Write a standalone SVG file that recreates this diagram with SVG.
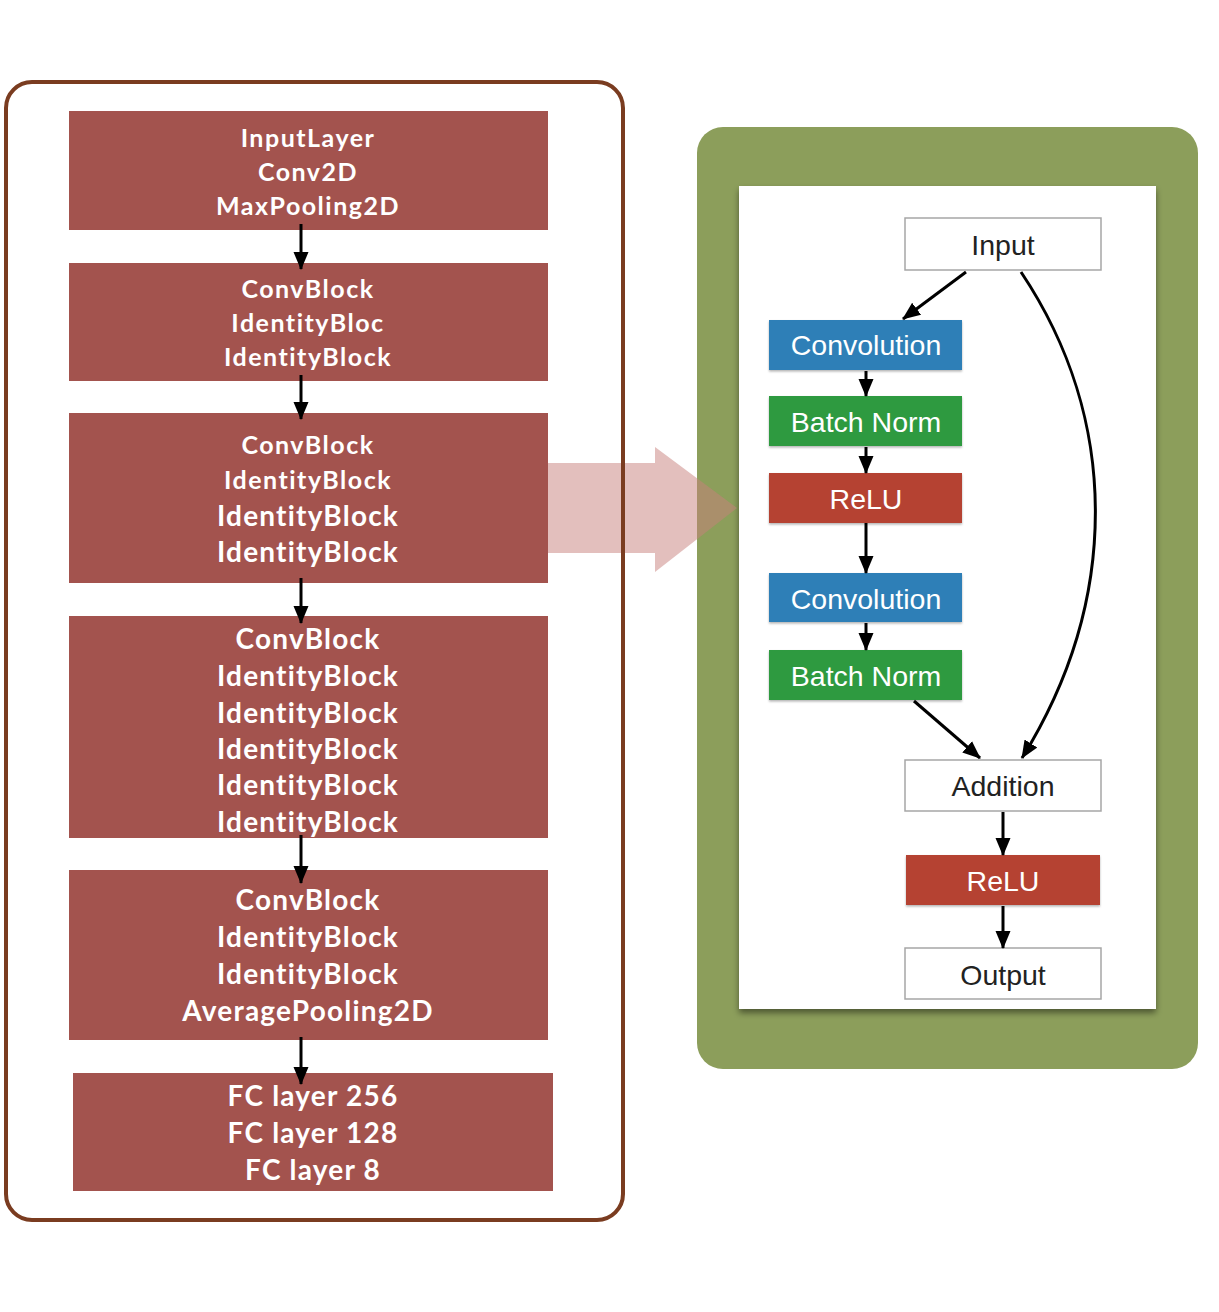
<svg xmlns="http://www.w3.org/2000/svg" width="1219" height="1312" viewBox="0 0 1219 1312">
<defs>
<marker id="ah" markerUnits="userSpaceOnUse" markerWidth="18" markerHeight="18" viewBox="0 0 18 18" refX="17" refY="9" orient="auto">
<path d="M0,1.5 L18,9 L0,16.5 Z" fill="#000"/>
</marker>
<filter id="sh" x="-5%" y="-5%" width="110%" height="110%">
<feDropShadow dx="0" dy="4" stdDeviation="3" flood-color="#000" flood-opacity="0.45"/>
</filter>
<filter id="sh2" x="-5%" y="-10%" width="110%" height="130%">
<feDropShadow dx="0" dy="1.5" stdDeviation="1" flood-color="#000" flood-opacity="0.3"/>
</filter>
</defs>
<style>
.blk{fill:#a3534e}
.lt{font-family:Lato,"Liberation Sans",sans-serif;font-weight:700;fill:#fff;text-anchor:middle}
.s1{font-size:25px;letter-spacing:1.5px}
.s2{font-size:28px;letter-spacing:1.2px}
.rt{font-family:"Liberation Sans",Arial,sans-serif;font-size:28.5px;text-anchor:middle}
.w{fill:#fff}
.d{fill:#222}
.conn{stroke:#000;stroke-width:3;fill:none;marker-end:url(#ah)}
.wn{fill:#fff;stroke:#a6a6a6;stroke-width:1.5}
</style>
<rect width="1219" height="1312" fill="#fff"/>

<!-- right panel -->
<rect id="panel" x="697" y="127" width="501" height="942" rx="26" fill="#8c9e5b"/>
<rect id="inner" x="739" y="186" width="417" height="823" fill="#fff" filter="url(#sh)"/>

<!-- big pink arrow -->
<path id="bigarrow" d="M548,463 L655,463 L655,447 L737,508 L655,572 L655,553 L548,553 Z" fill="#c8807c" fill-opacity="0.5"/>

<!-- left frame -->
<rect id="frame" x="6" y="82" width="617" height="1138" rx="26" fill="none" stroke="#7a3c20" stroke-width="4"/>

<!-- left blocks -->
<g id="b1"><rect class="blk" x="69" y="111" width="479" height="119"/>
<text class="lt s1" x="308" y="147">InputLayer</text>
<text class="lt s1" x="308" y="181">Conv2D</text>
<text class="lt s1" x="308" y="215">MaxPooling2D</text></g>
<g id="b2"><rect class="blk" x="69" y="263" width="479" height="118"/>
<text class="lt s1" x="308" y="298">ConvBlock</text>
<text class="lt s1" x="308" y="332">IdentityBloc</text>
<text class="lt s1" x="308" y="366">IdentityBlock</text></g>
<g id="b3"><rect class="blk" x="69" y="413" width="479" height="170"/>
<text class="lt s1" x="308" y="454">ConvBlock</text>
<text class="lt s1" x="308" y="489">IdentityBlock</text>
<text class="lt s2" x="308" y="526">IdentityBlock</text>
<text class="lt s2" x="308" y="562">IdentityBlock</text></g>
<g id="b4"><rect class="blk" x="69" y="616" width="479" height="222"/>
<text class="lt s2" x="308" y="649">ConvBlock</text>
<text class="lt s2" x="308" y="686">IdentityBlock</text>
<text class="lt s2" x="308" y="723">IdentityBlock</text>
<text class="lt s2" x="308" y="759">IdentityBlock</text>
<text class="lt s2" x="308" y="795">IdentityBlock</text>
<text class="lt s2" x="308" y="832">IdentityBlock</text></g>
<g id="b5"><rect class="blk" x="69" y="870" width="479" height="170"/>
<text class="lt s2" x="308" y="910">ConvBlock</text>
<text class="lt s2" x="308" y="947">IdentityBlock</text>
<text class="lt s2" x="308" y="984">IdentityBlock</text>
<text class="lt s2" x="308" y="1021">AveragePooling2D</text></g>
<g id="b6"><rect class="blk" x="73" y="1073" width="480" height="118"/>
<text class="lt s2" x="313" y="1106">FC layer 256</text>
<text class="lt s2" x="313" y="1143">FC layer 128</text>
<text class="lt s2" x="313" y="1180">FC layer 8</text></g>

<!-- right nodes -->
<g id="input"><rect class="wn" x="905" y="218" width="196" height="52"/>
<text class="rt d" x="1003" y="255">Input</text></g>
<g id="conv1"><rect x="769" y="320" width="193" height="50" fill="#2f7fb7" filter="url(#sh2)"/>
<text class="rt w" x="866" y="355">Convolution</text></g>
<g id="bn1"><rect x="769" y="396" width="193" height="50" fill="#2f9a3f" filter="url(#sh2)"/>
<text class="rt w" x="866" y="432">Batch Norm</text></g>
<g id="relu1"><rect x="769" y="473" width="193" height="50" fill="#b54232" filter="url(#sh2)"/>
<text class="rt w" x="866" y="509">ReLU</text></g>
<g id="conv2"><rect x="769" y="573" width="193" height="49" fill="#2f7fb7" filter="url(#sh2)"/>
<text class="rt w" x="866" y="609">Convolution</text></g>
<g id="bn2"><rect x="769" y="650" width="193" height="50" fill="#2f9a3f" filter="url(#sh2)"/>
<text class="rt w" x="866" y="686">Batch Norm</text></g>
<g id="addition"><rect class="wn" x="905" y="760" width="196" height="51"/>
<text class="rt d" x="1003" y="796">Addition</text></g>
<g id="relu2"><rect x="906" y="855" width="194" height="50" fill="#b54232" filter="url(#sh2)"/>
<text class="rt w" x="1003" y="891">ReLU</text></g>
<g id="output"><rect class="wn" x="905" y="948" width="196" height="51"/>
<text class="rt d" x="1003" y="985">Output</text></g>

<!-- connectors -->
<g id="connectors">
<line class="conn" x1="301" y1="224" x2="301" y2="269"/>
<line class="conn" x1="301" y1="375" x2="301" y2="419"/>
<line class="conn" x1="301" y1="578" x2="301" y2="623"/>
<line class="conn" x1="301" y1="835" x2="301" y2="883"/>
<line class="conn" x1="301" y1="1037" x2="301" y2="1084"/>
<line class="conn" x1="966" y1="272" x2="903" y2="319"/>
<line class="conn" x1="866" y1="371" x2="866" y2="396"/>
<line class="conn" x1="866" y1="447" x2="866" y2="473"/>
<line class="conn" x1="866" y1="523" x2="866" y2="573"/>
<line class="conn" x1="866" y1="623" x2="866" y2="650"/>
<line class="conn" x1="914" y1="701" x2="980" y2="758"/>
<path class="conn" d="M1021,272 C1120,420 1120,600 1022,758"/>
<line class="conn" x1="1003" y1="812" x2="1003" y2="855"/>
<line class="conn" x1="1003" y1="906" x2="1003" y2="948"/>
</g>
</svg>
